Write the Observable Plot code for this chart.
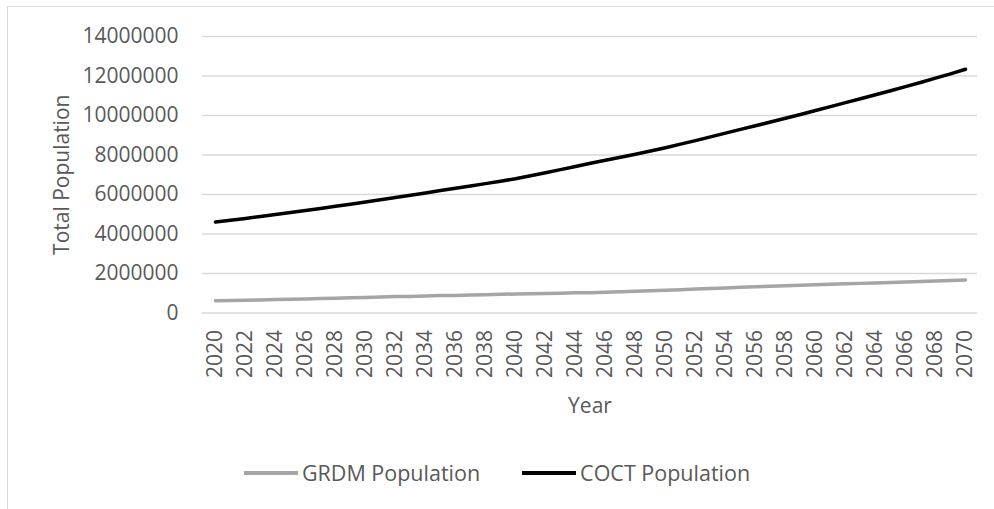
<!DOCTYPE html>
<html>
<head>
<meta charset="utf-8">
<script src="https://cdn.jsdelivr.net/npm/d3@7"></script>
<script src="https://cdn.jsdelivr.net/npm/@observablehq/plot@0.6"></script>
<style>
  html, body { margin: 0; padding: 0; background: #fff; }
  #wrap { position: relative; width: 994px; height: 509px; overflow: hidden; font-family: "Open Sans", sans-serif; }
  #border { position: absolute; left: 7px; top: 6px; width: 1100px; height: 600px; border-left: 1.5px solid #d9d9d9; border-top: 1.5px solid #d9d9d9; }
  #chart { position: absolute; left: 0; top: 0; }
  #legend { position: absolute; left: 0; top: 458px; width: 994px; display: flex; justify-content: center; align-items: center; font-size: 21.5px; color: #595959; }
  .item { display: flex; align-items: center; margin: 0 21px; }
  .sw { width: 54px; height: 4px; margin-right: 4px; }
</style>
</head>
<body>
<div id="wrap">
  <div id="border"></div>
  <div id="chart"></div>
  <div id="legend"></div>
</div>
<script>
const years = [2020,2021,2022,2023,2024,2025,2026,2027,2028,2029,2030,2031,2032,2033,2034,2035,2036,2037,2038,2039,2040,2041,2042,2043,2044,2045,2046,2047,2048,2049,2050,2051,2052,2053,2054,2055,2056,2057,2058,2059,2060,2061,2062,2063,2064,2065,2066,2067,2068,2069,2070];

const grdmPopulation = [620000,630000,650000,660000,680000,700000,710000,730000,750000,770000,790000,810000,830000,840000,860000,880000,890000,910000,930000,950000,960000,980000,990000,1000000,1020000,1030000,1050000,1080000,1100000,1130000,1150000,1180000,1210000,1240000,1270000,1300000,1330000,1350000,1380000,1400000,1430000,1450000,1480000,1500000,1520000,1550000,1570000,1600000,1620000,1650000,1670000];

const coctPopulation = [4610000,4700000,4790000,4890000,4990000,5090000,5190000,5290000,5400000,5510000,5620000,5730000,5850000,5960000,6080000,6200000,6320000,6430000,6550000,6670000,6800000,6950000,7100000,7260000,7420000,7580000,7730000,7890000,8040000,8200000,8370000,8550000,8730000,8920000,9110000,9300000,9480000,9670000,9860000,10050000,10250000,10450000,10650000,10850000,11050000,11250000,11460000,11670000,11890000,12110000,12340000];

const seriesNames = ["GRDM Population", "COCT Population"];
const seriesColors = ["#a5a5a5", "#000000"];
const yTicks = [0,2000000,4000000,6000000,8000000,10000000,12000000,14000000];
const xTicks = years.filter((d, i) => i % 2 === 0);

const rows = [];
years.forEach((y, i) => {
  rows.push({year: y, value: grdmPopulation[i], series: seriesNames[0]});
  rows.push({year: y, value: coctPopulation[i], series: seriesNames[1]});
});

const chart = Plot.plot({
  width: 994,
  height: 430,
  marginLeft: 202,
  marginRight: 17,
  marginTop: 36,
  marginBottom: 117.5,
  style: {fontFamily: "'Open Sans', sans-serif", fontSize: "21px", color: "#595959", background: "transparent", overflow: "visible"},
  x: {type: "point", domain: years, padding: 0.5},
  y: {domain: [0, 14000000]},
  color: {domain: seriesNames, range: seriesColors},
  marks: [
    Plot.gridY(yTicks, {stroke: "#d9d9d9", strokeOpacity: 1, strokeWidth: 1.5}),
    Plot.axisY({ticks: yTicks, tickSize: 0, tickPadding: 24, tickFormat: d3.format("d"),
      label: "Total Population", labelAnchor: "center", labelArrow: "none", labelOffset: 148,
      fontSize: 21}),
    Plot.axisX({ticks: xTicks, tickSize: 0, tickPadding: 17, tickRotate: -90, tickFormat: d => String(d),
      label: "Year", labelAnchor: "center", labelArrow: "none", labelOffset: 100}),
    Plot.line(rows, {x: "year", y: "value", z: "series", stroke: "series", strokeWidth: 3.5, curve: "linear"})
  ]
});
document.getElementById("chart").appendChild(chart);

const legend = document.getElementById("legend");
seriesNames.forEach((name, i) => {
  const item = document.createElement("div");
  item.className = "item";
  const sw = document.createElement("div");
  sw.className = "sw";
  sw.style.background = seriesColors[i];
  const t = document.createElement("span");
  t.textContent = name;
  item.appendChild(sw);
  item.appendChild(t);
  legend.appendChild(item);
});
</script>
</body>
</html>
